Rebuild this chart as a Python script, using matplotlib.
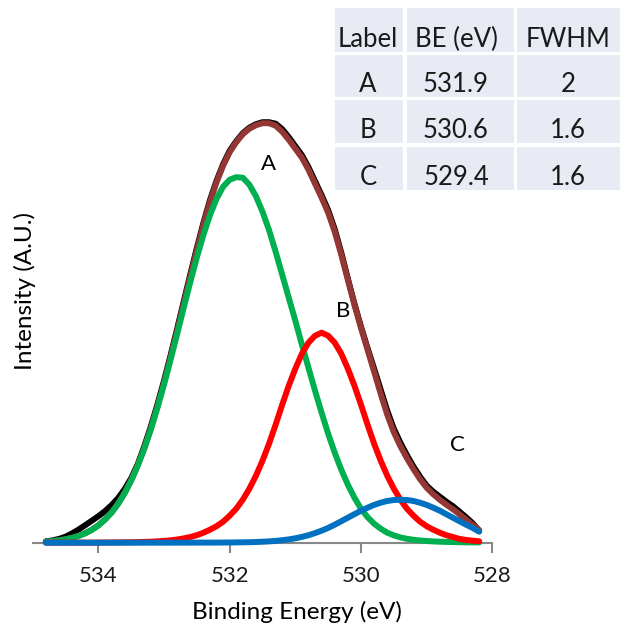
import matplotlib
matplotlib.use("Agg")
import matplotlib.pyplot as plt
from matplotlib.patches import Rectangle

plt.rcParams['font.family'] = ['Lato', 'DejaVu Sans']

# ---------------- data ----------------
energy = [534.8, 534.7, 534.6, 534.5, 534.4, 534.3, 534.2, 534.1, 534.0, 533.9,
          533.8, 533.7, 533.6, 533.5, 533.4, 533.3, 533.2, 533.1, 533.0, 532.9,
          532.8, 532.7, 532.6, 532.5, 532.4, 532.3, 532.2, 532.1, 532.0, 531.9,
          531.8, 531.7, 531.6, 531.5, 531.4, 531.3, 531.2, 531.1, 531.0, 530.9,
          530.8, 530.7, 530.6, 530.5, 530.4, 530.3, 530.2, 530.1, 530.0, 529.9,
          529.8, 529.7, 529.6, 529.5, 529.4, 529.3, 529.2, 529.1, 529.0, 528.9,
          528.8, 528.7, 528.6, 528.5, 528.4, 528.3, 528.2]

measured = [1.3, 2.3, 3.8, 6.0, 9.3, 13.2, 17.5, 22.0, 26.5, 31.5,
            37.5, 44.5, 53.5, 64.5, 78.5, 96.5, 116.4, 138.3, 162.0, 187.4,
            213.9, 241.2, 268.3, 294.7, 319.8, 342.6, 362.0, 378.5, 392.0, 401.5,
            409.5, 415.0, 418.5, 420.5, 420.5, 419.0, 413.5, 405.5, 396.5, 387.5,
            375.5, 361.5, 347.5, 332.5, 313.5, 290.0, 264.0, 239.0, 216.0, 194.5,
            174.0, 153.0, 132.0, 114.0, 100.0, 87.5, 76.0, 66.0, 57.0, 51.0,
            46.0, 41.0, 36.5, 31.0, 25.5, 19.5, 12.0]

envelope = [1.1, 1.7, 2.4, 3.5, 4.9, 6.9, 9.5, 12.9, 17.4, 23.2,
            30.3, 39.0, 49.8, 62.6, 77.5, 94.9, 114.4, 136.3, 160.0, 185.4,
            211.9, 239.2, 266.3, 292.7, 317.8, 340.6, 360.5, 377.0, 390.5, 400.5,
            408.5, 414.0, 417.5, 419.5, 419.5, 417.0, 411.0, 403.0, 394.0, 385.0,
            373.0, 359.0, 345.0, 330.0, 311.0, 288.0, 263.0, 238.0, 215.0, 193.0,
            171.0, 149.0, 128.0, 110.5, 96.5, 84.5, 73.5, 63.5, 55.0, 48.5,
            43.0, 38.0, 33.5, 28.5, 23.0, 18.0, 12.5]

peak_A = [1.1, 1.6, 2.3, 3.4, 4.8, 6.8, 9.4, 12.8, 17.2, 23.0,
          30.0, 38.7, 49.4, 62.1, 76.9, 94.1, 113.4, 134.9, 158.2, 183.0,
          208.7, 234.9, 260.6, 285.2, 307.8, 327.6, 343.9, 356.0, 363.0, 365.5,
          365.0, 358.0, 346.5, 331.0, 312.5, 291.0, 268.0, 245.0, 222.0, 198.0,
          175.0, 152.0, 130.0, 109.0, 90.0, 73.0, 58.0, 45.0, 34.0, 25.5,
          19.0, 14.0, 10.0, 7.3, 5.3, 3.9, 2.9, 2.2, 1.7, 1.3,
          1.0, 0.8, 0.6, 0.5, 0.4, 0.3, 0.25]

peak_B = [0.1, 0.1, 0.1, 0.1, 0.1, 0.1, 0.1, 0.1, 0.15, 0.2,
          0.25, 0.3, 0.4, 0.5, 0.6, 0.8, 1.0, 1.4, 1.8, 2.4,
          3.2, 4.3, 5.7, 7.5, 10.0, 13.0, 16.5, 21.0, 27.0, 34.0,
          43.0, 54.0, 67.0, 82.0, 99.0, 118.0, 138.0, 157.0, 174.0, 189.0,
          200.0, 207.0, 210.0, 207.0, 200.0, 189.0, 174.0, 157.0, 138.0, 118.0,
          99.0, 82.0, 67.0, 54.0, 43.0, 34.0, 27.0, 21.0, 16.5, 13.0,
          10.0, 7.5, 5.7, 3.8, 2.8, 2.0, 1.4]

peak_C = [0.0, 0.0, 0.0, 0.0, 0.0, 0.0, 0.0, 0.0, 0.0, 0.0,
          0.0, 0.0, 0.0, 0.0, 0.0, 0.0, 0.0, 0.0, 0.0, 0.0,
          0.05, 0.05, 0.05, 0.1, 0.1, 0.1, 0.1, 0.15, 0.2, 0.3,
          0.4, 0.5, 0.7, 1.0, 1.3, 1.8, 2.5, 3.3, 4.4, 5.8,
          7.5, 9.6, 12.0, 14.8, 18.0, 21.5, 25.0, 28.5, 32.0, 35.0,
          37.8, 40.0, 41.7, 42.7, 43.0, 42.7, 41.7, 40.0, 37.8, 35.0,
          32.0, 28.5, 25.0, 21.5, 18.0, 14.8, 11.0]

peak_names = ["A", "B", "C"]
label_pos_energy = [531.41, 530.27, 528.53]
label_pos_height = [378.7, 231.7, 97.7]

table_header = ["Label", "BE (eV)", "FWHM"]
table_be = ["531.9", "530.6", "529.4"]
table_fwhm = ["2", "1.6", "1.6"]

x_ticks = [534, 532, 530, 528]

# ---------------- figure ----------------
W, H = 621, 631
fig = plt.figure(figsize=(W / 100, H / 100), dpi=100)

def fx(px):
    return px / W

def fy(py):
    return 1 - py / H

ax_left, ax_right, ax_base = 32.7, 492.3, 542.7
ax = fig.add_axes([fx(ax_left), fy(ax_base), (ax_right - ax_left) / W, ax_base / H])
ax.set_xlim(535, 528)
ax.set_ylim(0, ax_base)
ax.patch.set_visible(False)
for s in ["left", "top", "right"]:
    ax.spines[s].set_visible(False)
ax.spines["bottom"].set_color("#888888")
ax.spines["bottom"].set_linewidth(1.5)
ax.set_yticks([])
ax.set_xticks(x_ticks)
ax.set_xticklabels([str(t) for t in x_ticks])
ax.tick_params(axis="x", direction="out", length=7.5, width=1.5, color="#888888",
               labelsize=16, pad=9, labelcolor="#1a1a1a")

lw = 4.3
common = dict(solid_capstyle="round", solid_joinstyle="round", clip_on=False)
ax.plot(energy, measured, color="#000000", lw=lw, zorder=2, **common)
ax.plot(energy, envelope, color="#943634", lw=lw, zorder=3, **common)
ax.plot(energy, peak_A, color="#00B050", lw=lw, zorder=4, **common)
ax.plot(energy, peak_B, color="#FF0000", lw=lw, zorder=5, **common)
ax.plot(energy, peak_C, color="#0070C0", lw=lw, zorder=6, **common)

for name, e, h in zip(peak_names, label_pos_energy, label_pos_height):
    ax.text(e, h, name, ha="center", va="center", fontsize=16, color="#000000")

fig.text(fx(297), fy(612), "Binding Energy (eV)", ha="center", va="center",
         fontsize=17.5, color="#000000")
fig.text(fx(25), fy(291), "Intensity (A.U.)", ha="center", va="center",
         rotation=90, fontsize=17.5, color="#000000")

# ---------------- table ----------------
col_edges = [(335, 403.3), (406.7, 514), (517.3, 620)]
row_edges = [(8.3, 51.7), (55, 96.7), (100, 143.3), (146.7, 190)]
col_text_x = [368, 456, 568]
cells = [table_header] + [[n, b, f] for n, b, f in zip(peak_names, table_be, table_fwhm)]
for r, (top, bot) in enumerate(row_edges):
    for c, (l, rgt) in enumerate(col_edges):
        fig.patches.append(Rectangle((fx(l), fy(bot)), (rgt - l) / W, (bot - top) / H,
                                     transform=fig.transFigure, facecolor="#E8EBF3",
                                     edgecolor="none", zorder=1))
        fig.text(fx(col_text_x[c]), fy(bot - 5), cells[r][c], ha="center", va="baseline",
                 fontsize=18.5, color="#1a1a1a", zorder=2)

fig.savefig("out.png", dpi=100)
